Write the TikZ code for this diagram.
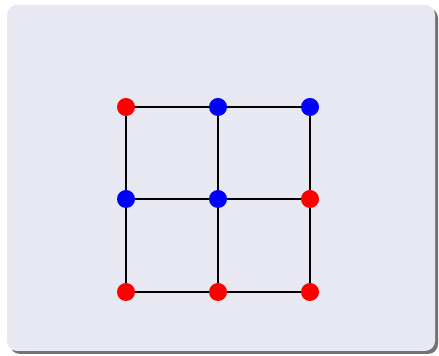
\documentclass[tikz,border=0pt]{standalone}
\usepackage{tikz}
\usetikzlibrary{positioning}
\definecolor{panelbg}{HTML}{E8E8F3}
\begin{document}
\begin{tikzpicture}[
  dot/.style={circle, inner sep=0pt, minimum size=0.45cm},
  reddot/.style={dot, fill=red},
  bluedot/.style={dot, fill=blue},
  edge/.style={draw=black, line width=0.9pt}
]
  \useasboundingbox (0,0) rectangle (10.975,8.9);
  % panel with shadow
  \fill[black!55, rounded corners=0.25cm] (0.25,0.05) rectangle (10.95,8.7);
  \fill[panelbg, rounded corners=0.25cm] (0.175,0.125) rectangle (10.875,8.775);
  % grid nodes
  \node[reddot]  (a1) at (3.15,6.225) {};
  \node[bluedot] (a2) at (5.45,6.225) {};
  \node[bluedot] (a3) at (7.75,6.225) {};
  \node[bluedot] (b1) at (3.15,3.925) {};
  \node[bluedot] (b2) at (5.45,3.925) {};
  \node[reddot]  (b3) at (7.75,3.925) {};
  \node[reddot]  (c1) at (3.15,1.6) {};
  \node[reddot]  (c2) at (5.45,1.6) {};
  \node[reddot]  (c3) at (7.75,1.6) {};
  % edges
  \path[edge] (a1) -- (a2);
  \path[edge] (a2) -- (a3);
  \path[edge] (b1) -- (b2);
  \path[edge] (b2) -- (b3);
  \path[edge] (c1) -- (c2);
  \path[edge] (c2) -- (c3);
  \path[edge] (a1) -- (b1);
  \path[edge] (b1) -- (c1);
  \path[edge] (a2) -- (b2);
  \path[edge] (b2) -- (c2);
  \path[edge] (a3) -- (b3);
  \path[edge] (b3) -- (c3);
\end{tikzpicture}
\end{document}
